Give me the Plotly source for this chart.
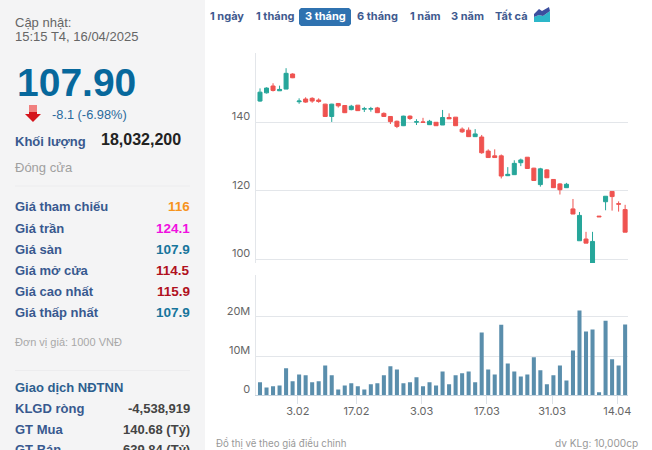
import plotly.graph_objects as go

W, H = 652, 450

opens = [146.2,148.6,150.6,149.2,149.7,154.1,146.0,146.8,147.0,146.5,145.3,141.7,145.5,144.9,143.7,145.0,143.85,143.85,144.2,142.6,
         141.7,140.3,139.0,141.8,140.05,140.1,139.3,140.0,139.2,141.4,141.5,138.0,137.7,135.8,135.7,131.6,130.2,130.2,124.4,124.7,
         128.2,129.8,126.6,121.8,126.1,123.3,122.0,120.9,114.7,105.4,105.9,97.5,112.6,116.8,119.8,116.2,114.5]
highs = [149.9,150.2,151.4,150.7,155.8,154.3,147.0,147.3,147.3,147.0,145.4,145.4,145.6,145.0,145.1,145.0,144.5,144.5,144.5,142.9,
         141.8,140.5,141.9,142.0,140.9,141.3,140.7,140.0,143.6,142.6,141.5,138.5,138.5,138.0,136.3,132.1,132.1,130.6,126.9,128.9,
         129.4,129.8,126.7,126.7,126.3,123.4,122.2,122.3,117.6,113.8,108.0,108.0,112.6,118.4,119.8,116.9,115.9]
lows = [146.0,148.4,149.0,149.2,149.7,152.9,145.4,145.7,145.7,145.7,141.6,140.1,144.3,142.7,143.5,143.3,143.0,143.1,142.7,141.6,
        139.5,138.3,138.9,140.7,139.2,140.0,139.2,139.0,139.2,141.0,139.0,136.9,135.7,135.7,130.8,129.6,129.7,123.6,124.3,124.6,
        127.2,126.4,122.9,121.2,123.7,120.8,118.9,120.8,113.2,105.4,104.7,97.5,112.4,114.3,114.2,113.9,107.9]
closes = [148.8,150.0,149.3,149.6,154.3,153.0,146.2,145.9,146.2,146.1,141.7,145.3,144.8,142.8,144.7,143.4,143.95,143.95,142.8,141.7,
          140.2,138.8,141.8,141.1,140.15,140.0,140.3,139.0,141.4,141.0,139.0,137.2,135.8,136.6,131.1,129.7,129.7,124.3,124.8,128.0,
          129.0,126.5,123.0,126.4,123.8,120.9,120.3,121.9,113.2,112.8,104.7,105.2,112.4,118.4,118.3,116.1,107.9]
volumes = [3.3,2.0,2.3,2.5,6.9,3.6,5.3,5.1,3.3,3.6,7.6,5.1,1.5,2.5,3.1,2.3,1.5,2.8,3.1,5.1,7.4,6.6,3.1,3.3,4.6,2.3,
           3.3,2.5,6.1,2.8,5.1,5.6,6.1,3.3,16.0,6.6,5.3,18.0,8.1,6.1,4.8,5.3,9.7,6.4,2.8,5.1,7.6,3.8,11.4,21.6,16.3,16.8,0.8,19.0,9.2,7.6,18.03]
sessions = list(range(len(closes)))

date_ticks = [5.8, 14.8, 24.8, 34.8, 44.8, 54.8]
date_labels = ["3.02", "17.02", "3.03", "17.03", "31.03", "14.04"]
price_ticks = [100, 120, 140, 160]
price_labels = ["100", "120", "140", ""]
vol_ticks = [0, 10, 20, 30.6]
vol_labels = ["0", "10M", "20M", ""]

periods = ["1 ngày", "1 tháng", "3 tháng", "6 tháng", "1 năm", "3 năm", "Tất cả"]
period_x = [226.5, 274.5, 325, 377, 425, 467, 511]

quote_labels = ["Giá tham chiếu", "Giá trần", "Giá sàn", "Giá mở cửa", "Giá cao nhất", "Giá thấp nhất"]
quote_values = ["116", "124.1", "107.9", "114.5", "115.9", "107.9"]
quote_colors = ["#f7941d", "#f010e0", "#17759c", "#b01020", "#b01020", "#17759c"]
quote_y = [207, 228.5, 249.5, 270.5, 291.5, 312.5]
foreign_labels = ["KLGD ròng", "GT Mua", "GT Bán"]
foreign_values = ["-4,538,919", "140.68 (Tỷ)", "639.84 (Tỷ)"]
foreign_y = [408, 429, 449.5]

GREEN, RED = "#26a69a", "#ef5350"
GRID = "#e3e6ea"
SANS = "Liberation Sans"
INTER = "Inter"


def px(x):
    return x / W


def py(y):
    return 1 - y / H


annotations = []


def text(x, y, s, size, color, anchor="left", family=SANS, weight="normal"):
    annotations.append(dict(x=px(x), y=py(y), xref="paper", yref="paper", text=s, showarrow=False,
                            xanchor=anchor, yanchor="middle", borderpad=0, borderwidth=0,
                            font=dict(family=family, size=size, color=color, weight=weight)))


text(15, 22.5, "Cập nhật:", 13, "#666666")
text(15, 37, "15:15 T4, 16/04/2025", 13, "#666666")
text(16.5, 82, "107.90", 39, "#07689c", weight="bold")
text(52, 115, "-8.1 (-6.98%)", 12.8, "#2a6a9c")
text(15, 141, "Khối lượng", 13, "#38598f", weight="bold")
text(180.5, 139, "18,032,200", 16, "#222222", "right", weight="bold")
text(15, 168, "Đóng cửa", 13, "#a0a0a0")
for lab, val, col, yy in zip(quote_labels, quote_values, quote_colors, quote_y):
    text(15, yy, lab, 13, "#38598f", weight="bold")
    text(189.5, yy, val, 13.5, col, "right", weight="bold")
text(15, 342, "Đơn vị giá: 1000 VNĐ", 11, "#a8a8a8")
text(15, 387, "Giao dịch NĐTNN", 13, "#2d5f8f", weight="bold")
for lab, val, yy in zip(foreign_labels, foreign_values, foreign_y):
    text(15, yy, lab, 13, "#38598f", weight="bold")
    text(189.5, yy, val, 13, "#444444", "right", weight="bold")

for lab, xx in zip(periods, period_x):
    text(xx, 16.5, lab, 11, "#ffffff" if lab == "3 tháng" else "#3f5a8f", "center", INTER, "bold")

text(216, 443, "Đồ thị vẽ theo giá điều chỉnh", 9.7, "#999999", family=INTER)
text(638, 443, "dv KLg: 10,000cp", 10.1, "#999999", "right", family=INTER)


def pp(points):
    return "M" + " L".join(f"{px(a):.5f},{py(b):.5f}" for a, b in points) + " Z"


shapes = [
    dict(type="rect", xref="paper", yref="paper", x0=0, x1=px(205), y0=0, y1=1, fillcolor="#f4f4f5",
         line_width=0, layer="below"),
    dict(type="line", xref="paper", yref="paper", x0=px(15), x1=px(190), y0=py(186), y1=py(186),
         line=dict(color="#ececee", width=1), layer="below"),
    dict(type="line", xref="paper", yref="paper", x0=px(15), x1=px(190), y0=py(370.5), y1=py(370.5),
         line=dict(color="#ececee", width=1), layer="below"),
    dict(type="path", xref="paper", yref="paper", layer="below", line_width=0, fillcolor="#2f72b0",
         path=pp([(301, 8), (349, 8), (351, 10), (351, 24), (349, 26), (301, 26), (299, 24), (299, 10)])),
    dict(type="path", xref="paper", yref="paper", line_width=0, fillcolor="#f0807f",
         path=pp([(29, 105), (37, 105), (37, 112), (29, 112)])),
    dict(type="path", xref="paper", yref="paper", line_width=0, fillcolor="#d5141c",
         path=pp([(29, 112), (37, 112), (37, 114), (41, 114), (33, 122), (25, 114), (29, 114)])),
    dict(type="path", xref="paper", yref="paper", line_width=0, fillcolor="#2db7c9",
         path=pp([(534, 17), (539, 15), (543, 16), (550, 11), (550, 22), (534, 22)])),
    dict(type="path", xref="paper", yref="paper", line_width=0, fillcolor="#3b4f9e",
         path=pp([(534, 14), (539, 9), (542, 11), (549, 7), (550, 11), (543, 16), (539, 15), (534, 17)])),
]

fig = go.Figure()
fig.add_trace(go.Candlestick(
    x=sessions, open=opens, high=highs, low=lows, close=closes, xaxis="x", yaxis="y",
    increasing=dict(line=dict(color=GREEN, width=1), fillcolor=GREEN),
    decreasing=dict(line=dict(color=RED, width=1), fillcolor=RED),
    whiskerwidth=0, showlegend=False,
))
fig.add_trace(go.Bar(x=sessions, y=volumes, xaxis="x2", yaxis="y2", marker=dict(color="#5a8eac", line_width=0),
                     width=0.62, showlegend=False))

XR = [-0.69, 56.44]
tick_font = dict(family=INTER, size=11, color="#666666")
fig.update_layout(
    template="none",
    width=W, height=H, autosize=False, margin=dict(l=0, r=0, t=0, b=0, pad=0, autoexpand=False),
    paper_bgcolor="#ffffff", plot_bgcolor="#ffffff", boxgap=0.3, boxgroupgap=0.12, showlegend=False,
    shapes=shapes, annotations=annotations, hovermode=False,
    xaxis=dict(domain=[px(255.5), px(628)], range=XR, anchor="y", showgrid=False, zeroline=False, automargin=False,
               showticklabels=False, ticks="", rangeslider=dict(visible=False), showline=False),
    yaxis=dict(domain=[py(263), py(53.3)], range=[98.9, 160.15], anchor="x", tickvals=price_ticks, automargin=False,
               ticktext=price_labels, tickfont=tick_font, gridcolor=GRID, gridwidth=1, zeroline=False,
               showline=True, linecolor=GRID, linewidth=1, ticks="", ticklabelstandoff=2, ticklabelshift=-6),
    xaxis2=dict(domain=[px(255.5), px(628)], range=XR, anchor="y2", showgrid=False, zeroline=False, automargin=False,
                tickvals=date_ticks, ticktext=date_labels, tickfont=tick_font, ticks="outside", ticklen=8,
                ticklabelstandoff=-3, tickcolor="#dce2e8", showline=True, linecolor="#c5d3de", linewidth=1),
    yaxis2=dict(domain=[py(395.3), py(275.3)], range=[0, 30.6], anchor="x2", tickvals=vol_ticks, automargin=False,
                ticktext=vol_labels, tickfont=tick_font, gridcolor=GRID, gridwidth=1, zeroline=False,
                showline=True, linecolor=GRID, linewidth=1, ticks="", ticklabelstandoff=2, ticklabelshift=-6),
)

fig.write_html("out.html", config=dict(displayModeBar=False),
               post_script="document.body.style.margin='0';document.body.style.overflow='hidden';")
